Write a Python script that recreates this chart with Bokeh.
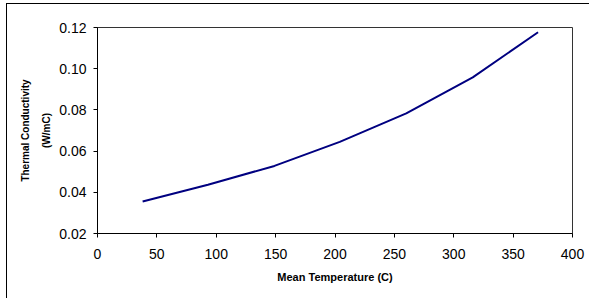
from bokeh.plotting import figure
from bokeh.models import FixedTicker, PrintfTickFormatter, Range1d
from bokeh.embed import file_html
from bokeh.resources import INLINE

temperature_c = [38, 93, 149, 204, 260, 316, 371]
conductivity = [0.0355, 0.0437, 0.0528, 0.0645, 0.0783, 0.0958, 0.1177]
x_ticks = [0, 50, 100, 150, 200, 250, 300, 350, 400]
y_ticks = [0.02, 0.04, 0.06, 0.08, 0.10, 0.12]

p = figure(width=583, height=295, output_backend="svg", toolbar_location=None,
           x_range=Range1d(0, 400), y_range=Range1d(0.02, 0.12),
           min_border_left=90, min_border_top=23, min_border_right=18, min_border_bottom=66)
p.styles = {"margin-left": "6px", "margin-top": "3px",
            "border-left": "1px solid black", "border-top": "1px solid black"}

p.line(temperature_c, conductivity, line_color="#000080", line_width=2)

p.grid.visible = False
p.outline_line_color = "#333333"
p.outline_line_width = 1
p.background_fill_color = "white"
p.border_fill_color = "white"

p.xaxis.ticker = FixedTicker(ticks=x_ticks)
p.yaxis.ticker = FixedTicker(ticks=y_ticks)
p.yaxis.formatter = PrintfTickFormatter(format="%.2f")

for ax in (p.xaxis, p.yaxis):
    ax.axis_line_color = "black"
    ax.major_tick_line_color = "black"
    ax.minor_tick_line_color = None
    ax.major_tick_out = 4
    ax.major_tick_in = 0
    ax.major_label_text_font = "Liberation Sans"
    ax.major_label_text_font_size = "14px"
    ax.major_label_text_color = "black"
    ax.axis_label_text_font = "Liberation Sans"
    ax.axis_label_text_font_style = "bold"
    ax.axis_label_text_color = "black"

p.xaxis.axis_label = "Mean Temperature (C)"
p.xaxis.axis_label_text_font_size = "11px"
p.xaxis.major_label_standoff = 11
p.xaxis.axis_label_standoff = 9

p.yaxis.axis_label = "Thermal Conductivity\n(W/mC)"
p.yaxis.axis_label_text_font_size = "10px"
p.yaxis.axis_label_text_line_height = 1.9
p.yaxis.major_label_standoff = 7
p.yaxis.axis_label_standoff = 4

open("out.html", "w").write(file_html(p, INLINE))
